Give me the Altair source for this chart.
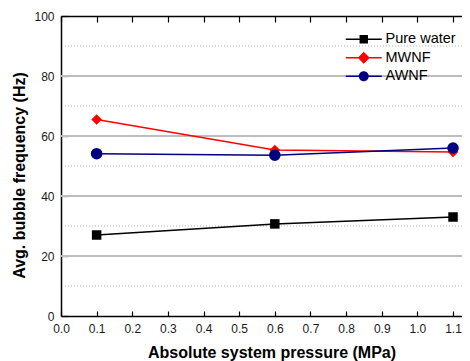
import altair as alt
import pandas as pd

pressure = [0.1, 0.6, 1.1]
pure_water = [27.0, 30.7, 33.0]
mwnf = [65.5, 55.3, 54.7]
awnf = [54.1, 53.6, 56.0]
series_names = ["Pure water", "MWNF", "AWNF"]
series_colors = ["#000000", "#ff0000", "#000080"]
x_ticks = [0.0, 0.1, 0.2, 0.3, 0.4, 0.5, 0.6, 0.7, 0.8, 0.9, 1.0, 1.1]
y_ticks = [0, 20, 40, 60, 80, 100]
y_major = [20, 40, 60, 80]
y_minor = [10, 30, 50, 70, 90]

rows = []
for name, vals in zip(series_names, [pure_water, mwnf, awnf]):
    for p, f in zip(pressure, vals):
        rows.append({"s": name, "p": p, "f": f})
df = pd.DataFrame(rows)

FONT = "Liberation Sans"
xs = alt.Scale(domain=[0, 1.1252], nice=False, zero=False)
ys = alt.Scale(domain=[0, 100], nice=False)
cscale = alt.Scale(domain=series_names, range=series_colors)

line_path = "M-3.6,-0.15H3.6V0.15H-3.6Z "
legend_shapes = [
    line_path + "M-0.84,-0.84H0.84V0.84H-0.84Z",
    line_path + "M-1.2,0L0,-1.2L1.2,0L0,1.2Z",
    line_path + "M1,0A1,1,0,1,1,-1,0A1,1,0,1,1,1,0Z",
]

minor = alt.Chart(pd.DataFrame({"v": y_minor})).mark_rule(
    color="#b5b5b5", strokeWidth=1, strokeDash=[1, 2]
).encode(
    y=alt.Y("v:Q", scale=ys, axis=alt.Axis(
        orient="left", values=y_ticks, format="d", grid=False, ticks=False,
        domain=True, domainColor="#000000", domainWidth=1.5,
        labelFont=FONT, labelFontSize=12, labelColor="#1a1a1a", labelPadding=7,
        labelFlush=False, labelOverlap=False,
        title="Avg. bubble frequency (Hz)", titleFont=FONT, titleFontSize=16,
        titleFontWeight="bold", titleColor="#000000", titleX=-42, titleY=159,
        titleBaseline="middle", titleAlign="center"))
)

major = alt.Chart(pd.DataFrame({"v": y_major})).mark_rule(
    color="#bdbdbd", strokeWidth=1.8
).encode(
    y=alt.Y("v:Q", scale=ys, axis=alt.Axis(
        orient="left", offset=-7, tickSize=7, values=y_ticks, labels=False,
        domain=False, title=None, grid=False, tickColor="#000000", tickWidth=1.2))
)

lines = alt.Chart(df).mark_line(strokeWidth=1.5).encode(
    x=alt.X("p:Q", scale=xs, axis=alt.Axis(
        orient="bottom", values=x_ticks, format=".1f", grid=False, ticks=False,
        domain=True, domainColor="#000000", domainWidth=1.5,
        labelFont=FONT, labelFontSize=12, labelColor="#1a1a1a", labelPadding=7,
        labelFlush=False, labelOverlap=False,
        title="Absolute system pressure (MPa)", titleFont=FONT, titleFontSize=16,
        titleFontWeight="bold", titleColor="#000000", titleX=210.5, titleY=41,
        titleBaseline="alphabetic", titleAlign="center")),
    y=alt.Y("f:Q", scale=ys, axis=None),
    color=alt.Color("s:N", scale=cscale, legend=None),
)

points = alt.Chart(df).mark_point(filled=True, opacity=1, strokeWidth=0).encode(
    x=alt.X("p:Q", scale=xs, axis=alt.Axis(
        orient="bottom", offset=-5, tickSize=5, values=x_ticks, labels=False,
        domain=False, title=None, grid=False, tickColor="#000000", tickWidth=1.2)),
    y=alt.Y("f:Q", scale=ys, axis=None),
    color=alt.Color("s:N", scale=cscale, legend=None),
    shape=alt.Shape("s:N", scale=alt.Scale(domain=series_names,
                    range=["square", "diamond", "circle"]), legend=None),
    size=alt.Size("s:N", scale=alt.Scale(domain=series_names,
                  range=[90, 135, 110]), legend=None),
)

leg = alt.Legend(title=None, orient="none", legendX=295.5, legendY=16,
                 symbolSize=100, symbolStrokeWidth=0, symbolOpacity=1,
                 labelFont=FONT, labelFontSize=14.5, labelColor="#000000",
                 labelOffset=14.5, rowPadding=3.5, padding=0)

top_line = alt.Chart(df).transform_filter("false").mark_point(filled=True).encode(
    x=alt.X("p:Q", scale=xs, axis=alt.Axis(
        orient="top", ticks=False, labels=False, domain=True,
        domainColor="#000000", domainWidth=1.5, title=None, grid=False)),
    color=alt.Color("s:N", scale=cscale, legend=leg),
    shape=alt.Shape("s:N", scale=alt.Scale(domain=series_names, range=legend_shapes),
                    legend=leg),
)

top_ticks = alt.Chart(df).transform_filter("false").mark_point().encode(
    x=alt.X("p:Q", scale=xs, axis=alt.Axis(
        orient="top", offset=-6, tickSize=6, values=x_ticks, labels=False,
        domain=False, title=None, grid=False, tickColor="#000000", tickWidth=1.2)),
)

chart = alt.layer(minor, major, lines, points, top_line, top_ticks).resolve_scale(
    color="independent", shape="independent", size="independent"
).resolve_axis(x="independent", y="independent").properties(
    width=401, height=300,
    autosize=alt.AutoSizeParams(type="none"),
    padding={"left": 53, "top": 8, "right": 0, "bottom": 45},
).configure_view(stroke=None)

chart.save("out.html", embed_options={"renderer": "svg", "actions": False})
